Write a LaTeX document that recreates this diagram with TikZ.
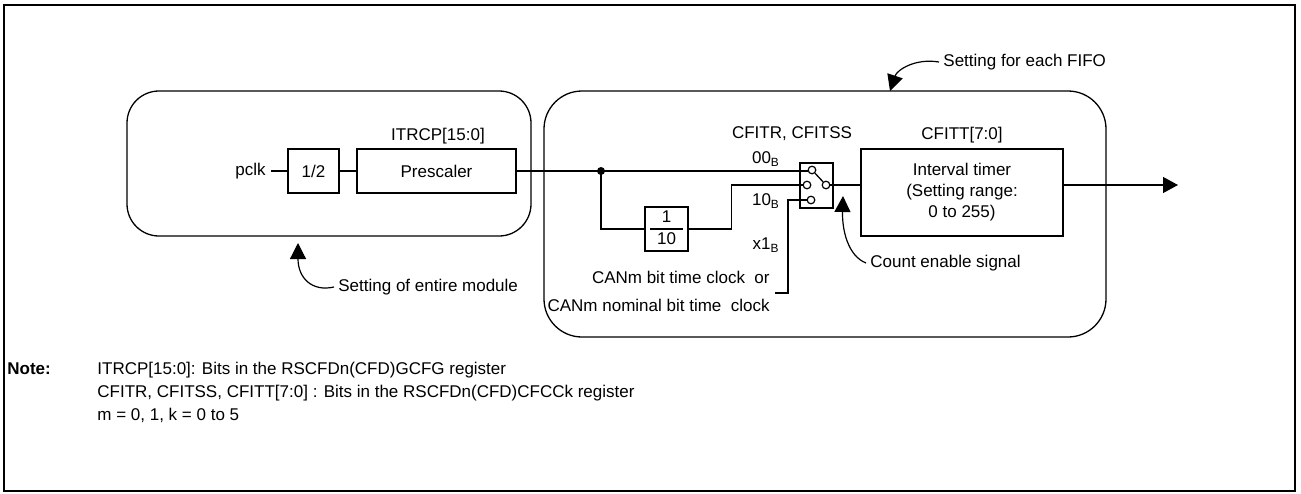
\documentclass[tikz,border=0pt]{standalone}
\usepackage{fontspec}
\setmainfont{Liberation Sans}
\usepackage{tikz}
\usetikzlibrary{arrows.meta, positioning}

\begin{document}
\begin{tikzpicture}[x=0.5pt, y=-0.5pt,
  font=\fontsize{8.5}{10.5}\selectfont,
  frame/.style={draw=black, line width=1.1pt},
  group/.style={draw=black, line width=0.65pt},
  block/.style={draw=black, line width=0.65pt, minimum height=22pt, align=center, inner sep=0pt},
  term/.style={draw=black, line width=0.6pt, circle, minimum size=3.8pt, inner sep=0pt},
  txt/.style={inner sep=0pt},
  wire/.style={line width=0.65pt},
  arrow/.style={-{Triangle[length=7.5pt, width=8pt]}, line width=0.65pt},
  remark/.style={-{Triangle[length=8pt, width=8pt]}, line width=0.6pt}]

  \useasboundingbox (0,0) rectangle (1301,493);
  \draw[frame] (4,5) rectangle (1295,491);

  % module and FIFO settings
  \draw[group, rounded corners=16pt] (127,91) rectangle (531,236);
  \draw[group, rounded corners=19pt] (544,91) rectangle (1106,337);

  \node[anchor=east, inner sep=2.5pt] (pclk) at (271,171) {pclk};
  \node[block, minimum width=25.5pt] (half) at (313.5,171) {1/2};
  \node[block, minimum width=79.5pt] (pre) at (436.5,171) {Prescaler};
  \node[txt] (itrcp) at (438,136) {ITRCP[15:0]};

  \coordinate (jn) at (601,171);
  \setlength{\arrayrulewidth}{0.6pt}
  \node[block, minimum width=21.5pt] (div) at (666.5,229)
    {\begin{tabular}{@{\hspace{3.3pt}}c@{\hspace{3.3pt}}}1\\\hline 10\end{tabular}};

  % selector
  \node[draw, line width=0.65pt, minimum width=16.5pt, minimum height=22.5pt, inner sep=0pt] (sw) at (816.5,185.5) {};
  \node[term] (t1) at (812,170) {};
  \node[term] (t2) at (807,185) {};
  \node[term] (t3) at (826,185) {};
  \node[term] (t4) at (811,200) {};
  \node[txt] (cfitr) at (792,134) {CFITR, CFITSS};
  \node[txt] (in00) at (766,159) {00\textsubscript{B}};
  \node[txt] (in10) at (766,201) {10\textsubscript{B}};
  \node[txt] (inx1) at (766,245) {x1\textsubscript{B}};
  \node[txt, anchor=east] (bitclk) at (770,277) {CANm bit time clock~ or};
  \node[txt, anchor=east] (nomclk) at (770,305) {CANm nominal bit time~ clock};
  \coordinate (canclk) at (775,293);

  \node[block, minimum width=101pt, minimum height=43.5pt] (timer) at (962,192.5)
    {Interval timer\\(Setting range:\\0 to 255)};
  \node[txt] (cfitt) at (962,135) {CFITT[7:0]};
  \coordinate (out) at (1178,185);

  \draw[wire] (pclk) -- (half);
  \draw[wire] (half) -- (pre);
  \draw[wire] (pre) -- (jn) -- (jn -| t1.west);
  \fill (jn) circle (2pt);
  \draw[wire] (jn) |- (div);
  \draw[wire] (div.east) -- ++(43,0) |- (t2);
  \draw[wire] (t4) -| (788,293) -- (canclk);
  \draw[wire] (t1) -- (t3);
  \draw[wire] (t3) -- (t3 -| timer.west);
  \draw[arrow] (timer.east |- t3) -- (out);

  % annotations
  \node[anchor=west, inner sep=2pt] (entire) at (334,287) {Setting of entire module};
  \draw[remark] (entire.west) .. controls (312,292) and (298,278) .. (298,243);
  \node[anchor=west, inner sep=2pt] (enable) at (866,263) {Count enable signal};
  \draw[remark] (enable.west) .. controls (848,256) and (842,230) .. (843,196);
  \node[anchor=west, inner sep=2pt] (fifo) at (939,62) {Setting for each FIFO};
  \draw[remark] (fifo.west) .. controls (915,58) and (897,70) .. (890,91);

  % notes
  \node[txt, anchor=base west, font=\fontsize{8.5}{10.5}\selectfont\bfseries] (note) at (7,374) {Note:};
  \node[txt, anchor=base west] (note1) at (97,374) {ITRCP[15:0]: Bits in the RSCFDn(CFD)GCFG register};
  \node[txt, anchor=base west] (note2) at (97,397) {CFITR, CFITSS, CFITT[7:0] : Bits in the RSCFDn(CFD)CFCCk register};
  \node[txt, anchor=base west] (note3) at (97,420) {m = 0, 1, k = 0 to 5};
\end{tikzpicture}
\end{document}
